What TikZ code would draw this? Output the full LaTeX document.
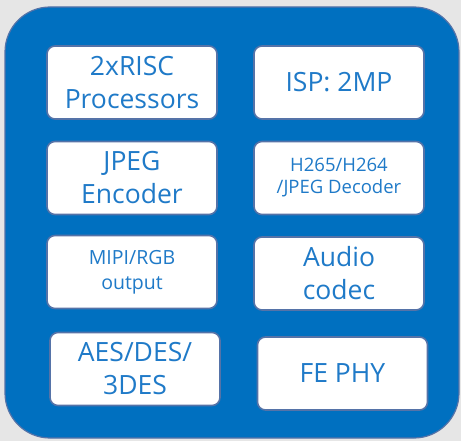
\documentclass[tikz,border=0pt]{standalone}
\usepackage{fontspec}
\setmainfont{Open Sans}
\definecolor{bg}{HTML}{E6E6E6}
\definecolor{panel}{HTML}{0070C0}
\definecolor{edge}{HTML}{5573A8}
\definecolor{txt}{HTML}{1F7AC8}
\tikzset{
  blk/.style={draw=edge, line width=1.6pt, fill=white, rounded corners=8pt,
    minimum width=170pt, minimum height=73pt, inner sep=0pt, text=txt, align=center},
  big/.style={blk, font=\fontsize{26.5}{33}\selectfont},
  mid/.style={blk, font=\fontsize{19.5}{25}\selectfont},
  sml/.style={blk, font=\fontsize{18.5}{22}\selectfont},
}
\begin{document}
\begin{tikzpicture}[x=1pt,y=-1pt]
\fill[bg] (0,0) rectangle (461,441);
\useasboundingbox (0,0) rectangle (461,441);
\node[draw=edge, line width=1.2pt, fill=panel, rounded corners=45pt,
  minimum width=454pt, minimum height=431pt, inner sep=0pt] (chip) at (232,222.5) {};
\node[big] (risc) at (132,82.5) {2xRISC\\Processors};
\node[big] (isp) at (339,82.5) {ISP: 2MP};
\node[big] (jpeg) at (132,178) {JPEG\\Encoder};
\node[sml] (dec) at (339,178) {H265/H264\\/JPEG Decoder};
\node[mid] (mipi) at (132,272) {MIPI/RGB\\output};
\node[big] (audio) at (339,273.5) {Audio\\codec};
\node[big] (aes) at (135,369) {AES/DES/\\3DES};
\node[big] (fe) at (342.5,373.5) {FE PHY};
\end{tikzpicture}
\end{document}
